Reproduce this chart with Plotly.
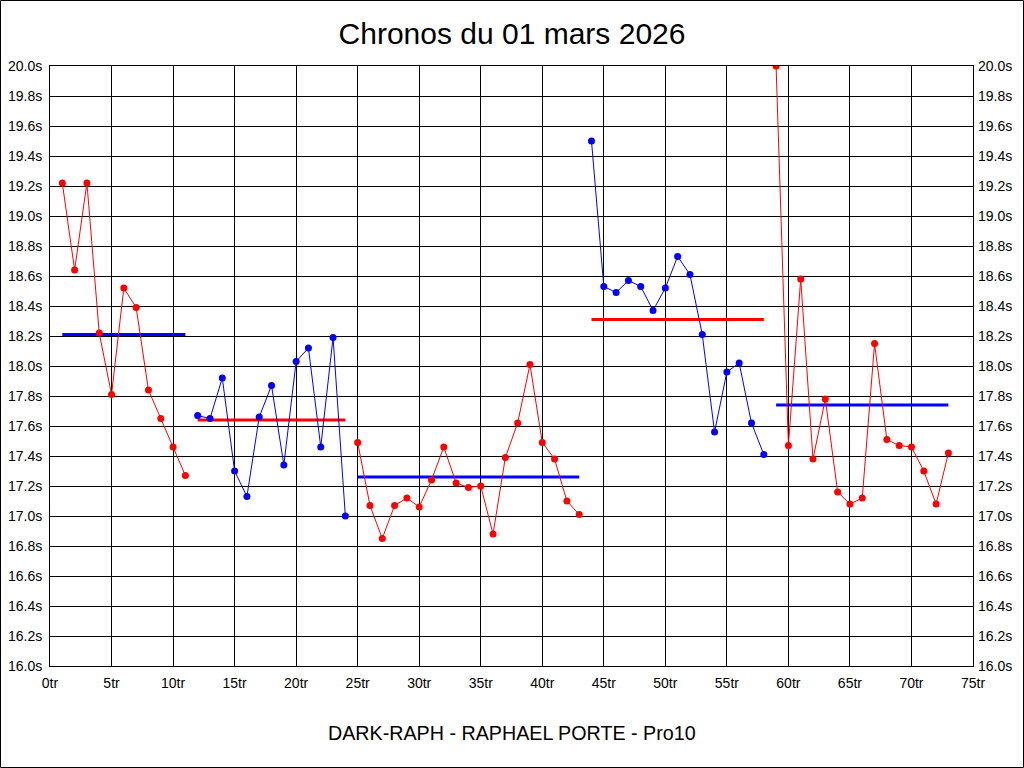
import plotly.graph_objects as go

# Lap times per stint (seconds)
laps_1 = list(range(1, 12))
times_1 = [19.22, 18.64, 19.22, 18.22, 17.81, 18.52, 18.39, 17.84, 17.65, 17.46, 17.27]

laps_2 = list(range(12, 25))
times_2 = [17.67, 17.65, 17.92, 17.30, 17.13, 17.66, 17.87, 17.34, 18.03, 18.12, 17.46, 18.19, 17.00]

laps_3 = list(range(25, 44))
times_3 = [17.49, 17.07, 16.85, 17.07, 17.12, 17.06, 17.24, 17.46, 17.22, 17.19, 17.20,
           16.88, 17.39, 17.62, 18.01, 17.49, 17.38, 17.10, 17.01]

laps_4 = list(range(44, 59))
times_4 = [19.50, 18.53, 18.49, 18.57, 18.53, 18.37, 18.52, 18.73, 18.61, 18.21, 17.56,
           17.96, 18.02, 17.62, 17.41]

laps_5 = list(range(59, 74))
times_5 = [20.00, 17.47, 18.58, 17.38, 17.78, 17.16, 17.08, 17.12, 18.15, 17.51, 17.47,
           17.46, 17.30, 17.08, 17.42]

stint_averages = [18.21, 17.64, 17.26, 18.31, 17.74]

title_text = "Chronos du 01 mars 2026"
footer_text = "DARK-RAPH - RAPHAEL PORTE - Pro10"

RED = "#ff0000"
BLUE = "#0000ff"

stints = [(laps_1, times_1), (laps_2, times_2), (laps_3, times_3), (laps_4, times_4), (laps_5, times_5)]
colors = [RED, BLUE, RED, BLUE, RED]
avg_colors = [BLUE, RED, BLUE, RED, BLUE]

fig = go.Figure()
for (laps, times), c, avg, ac in zip(stints, colors, stint_averages, avg_colors):
    fig.add_trace(go.Scatter(
        x=[laps[0], laps[-1]], y=[avg, avg], mode="lines",
        line=dict(color=ac, width=3), hoverinfo="skip", showlegend=False))
    fig.add_trace(go.Scatter(
        x=laps, y=times, mode="lines+markers",
        line=dict(color=c, width=1), marker=dict(color=c, size=7),
        showlegend=False))

# invisible trace for right-hand axis
fig.add_trace(go.Scatter(x=[0], y=[16.0], yaxis="y2", mode="markers",
                         marker=dict(opacity=0), hoverinfo="skip", showlegend=False))

W, H = 1024, 768
L, R, T, B = 50, 51, 66, 102
pw, ph = W - L - R, H - T - B

def px_to_paper_x(px):
    return (px - L) / pw

def py_to_paper_y(py):
    return (H - B - py) / ph

tickfont = dict(family="Liberation Sans, Arial, sans-serif", size=14, color="#000000")

fig.update_layout(
    width=W, height=H,
    margin=dict(l=L, r=R, t=T, b=B, pad=0, autoexpand=False),
    paper_bgcolor="white", plot_bgcolor="white",
    title=dict(text=title_text, x=0.5, xanchor="center", y=1 - 33 / H, yanchor="middle",
               font=dict(family="Liberation Sans, Arial, sans-serif", size=30, color="#000000")),
    xaxis=dict(range=[0, 75], dtick=5, tick0=0, ticksuffix="tr", automargin=False,
               showgrid=True, gridcolor="#000000", gridwidth=1,
               showline=True, linecolor="#000000", linewidth=1, mirror=True,
               zeroline=False, ticks="", tickfont=tickfont, ticklabelstandoff=4),
    yaxis=dict(range=[16.0, 20.0], dtick=0.2, tick0=16.0, tickformat=".1f", ticksuffix="s",
               automargin=False,
               showgrid=True, gridcolor="#000000", gridwidth=1,
               showline=True, linecolor="#000000", linewidth=1, mirror=True,
               zeroline=False, ticks="", tickfont=tickfont, ticklabelstandoff=4),
    yaxis2=dict(range=[16.0, 20.0], dtick=0.2, tick0=16.0, tickformat=".1f", ticksuffix="s",
                automargin=False,
                overlaying="y", side="right", showgrid=False, zeroline=False,
                showline=False, ticks="", tickfont=tickfont, ticklabelstandoff=4),
    annotations=[dict(text=footer_text, xref="paper", yref="paper",
                      x=0.5, y=py_to_paper_y(733), xanchor="center", yanchor="middle",
                      showarrow=False,
                      font=dict(family="Liberation Sans, Arial, sans-serif", size=19.7, color="#000000"))],
    shapes=[dict(type="rect", xref="paper", yref="paper",
                 x0=px_to_paper_x(0.5), x1=px_to_paper_x(W - 0.5),
                 y0=py_to_paper_y(H - 0.5), y1=py_to_paper_y(0.5),
                 line=dict(color="#000000", width=1), layer="below")],
)

fig.write_html("out.html", config={"displayModeBar": False},
               post_script="document.body.style.margin='0';document.body.style.overflow='hidden';")
